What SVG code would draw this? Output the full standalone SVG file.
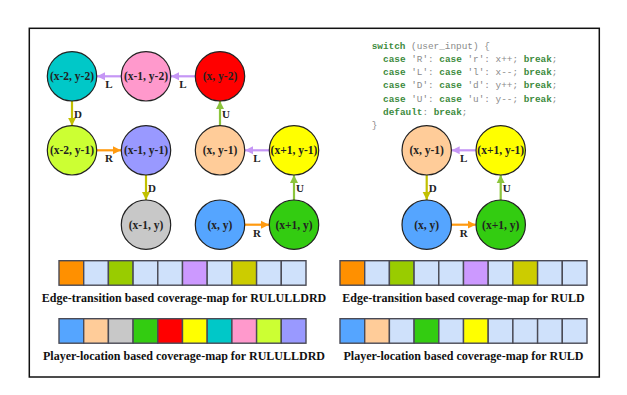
<svg xmlns="http://www.w3.org/2000/svg" width="627" height="395" viewBox="0 0 627 395">
<style>
.node circle{stroke:#222;stroke-width:1.2}
.node text{font-family:"Liberation Serif",serif;font-weight:bold;font-size:11.5px;fill:#222;text-anchor:middle}
.lbl{font-family:"Liberation Serif",serif;font-weight:bold;font-size:11px;fill:#222}
.c{text-anchor:middle}
.edge{fill:none;stroke-width:2.2}
.eL{stroke:#c596f5}
.eD{stroke:#c2c000}
.eR{stroke:#ff9a10}
.eU{stroke:#8cc43c}
.code{font-family:"Liberation Mono",monospace;font-size:9.4px;fill:#8a8a8a}
.kw{font-weight:bold;fill:#3d8b3d}
.cell{stroke:#4a4a55;stroke-width:1.4}
.cap{font-family:"Liberation Serif",serif;font-weight:bold;font-size:12px;fill:#111;text-anchor:middle}
</style>
<defs>
<marker id="aL" markerUnits="userSpaceOnUse" markerWidth="9" markerHeight="9" refX="8" refY="4.5" orient="auto"><path d="M0,0.5 L8,4.5 L0,8.5 Z" fill="#c596f5"/></marker>
<marker id="aD" markerUnits="userSpaceOnUse" markerWidth="9" markerHeight="9" refX="8" refY="4.5" orient="auto"><path d="M0,0.5 L8,4.5 L0,8.5 Z" fill="#c2c000"/></marker>
<marker id="aR" markerUnits="userSpaceOnUse" markerWidth="9" markerHeight="9" refX="8" refY="4.5" orient="auto"><path d="M0,0.5 L8,4.5 L0,8.5 Z" fill="#ff9a10"/></marker>
<marker id="aU" markerUnits="userSpaceOnUse" markerWidth="9" markerHeight="9" refX="8" refY="4.5" orient="auto"><path d="M0,0.5 L8,4.5 L0,8.5 Z" fill="#8cc43c"/></marker>
</defs>
<rect x="0" y="0" width="627" height="395" fill="#fff"/>
<rect x="29.3" y="28.3" width="570" height="348.7" fill="none" stroke="#111" stroke-width="1.5"/>

<g id="connectors">
<path class="edge eL" d="M121,76.3 H97" marker-end="url(#aL)"/>
<path class="edge eL" d="M195,76.3 H171" marker-end="url(#aL)"/>
<path class="edge eD" d="M72,101 V125.7" marker-end="url(#aD)"/>
<path class="edge eR" d="M97,150.3 H121" marker-end="url(#aR)"/>
<path class="edge eD" d="M146,175 V200" marker-end="url(#aD)"/>
<path class="edge eU" d="M220,125.7 V101" marker-end="url(#aU)"/>
<path class="edge eL" d="M269,150.3 H245" marker-end="url(#aL)"/>
<path class="edge eU" d="M294,200 V175" marker-end="url(#aU)"/>
<path class="edge eR" d="M245,224.7 H269" marker-end="url(#aR)"/>
<path class="edge eL" d="M475.7,150.3 H451.7" marker-end="url(#aL)"/>
<path class="edge eD" d="M426.7,175 V200" marker-end="url(#aD)"/>
<path class="edge eU" d="M500.7,200 V175" marker-end="url(#aU)"/>
<path class="edge eR" d="M451.7,224.7 H475.7" marker-end="url(#aR)"/>
<text class="lbl c" x="109" y="88">L</text>
<text class="lbl c" x="183" y="88">L</text>
<text class="lbl" x="74" y="117.5">D</text>
<text class="lbl c" x="109" y="162">R</text>
<text class="lbl" x="148" y="191.5">D</text>
<text class="lbl" x="222" y="117.5">U</text>
<text class="lbl c" x="257" y="162">L</text>
<text class="lbl" x="296" y="191.5">U</text>
<text class="lbl c" x="257" y="236.5">R</text>
<text class="lbl c" x="463.7" y="162">L</text>
<text class="lbl" x="428.7" y="191.5">D</text>
<text class="lbl" x="502.7" y="191.5">U</text>
<text class="lbl c" x="463.7" y="236.5">R</text>
</g>

<g id="n-xm2-ym2" class="node"><circle cx="72" cy="76.3" r="24.7" fill="#00c8c8"/><text x="72" y="80.3">(x-2, y-2)</text></g>
<g id="n-xm1-ym2" class="node"><circle cx="146" cy="76.3" r="24.7" fill="#ff99cc"/><text x="146" y="80.3">(x-1, y-2)</text></g>
<g id="n-x-ym2" class="node"><circle cx="220" cy="76.3" r="24.7" fill="#ff0000"/><text x="220" y="80.3">(x, y-2)</text></g>
<g id="n-xm2-ym1" class="node"><circle cx="72" cy="150.3" r="24.7" fill="#ccff33"/><text x="72" y="154.3">(x-2, y-1)</text></g>
<g id="n-xm1-ym1" class="node"><circle cx="146" cy="150.3" r="24.7" fill="#9999ff"/><text x="146" y="154.3">(x-1, y-1)</text></g>
<g id="n-x-ym1" class="node"><circle cx="220" cy="150.3" r="24.7" fill="#ffcc99"/><text x="220" y="154.3">(x, y-1)</text></g>
<g id="n-xp1-ym1" class="node"><circle cx="294" cy="150.3" r="24.7" fill="#ffff00"/><text x="294" y="154.3">(x+1, y-1)</text></g>
<g id="n-xm1-y" class="node"><circle cx="146" cy="224.7" r="24.7" fill="#c8c8c8"/><text x="146" y="228.7">(x-1, y)</text></g>
<g id="n-x-y" class="node"><circle cx="220" cy="224.7" r="24.7" fill="#55a5ff"/><text x="220" y="228.7">(x, y)</text></g>
<g id="n-xp1-y" class="node"><circle cx="294" cy="224.7" r="24.7" fill="#33cc11"/><text x="294" y="228.7">(x+1, y)</text></g>

<g id="r-x-ym1" class="node"><circle cx="426.7" cy="150.3" r="24.7" fill="#ffcc99"/><text x="426.7" y="154.3">(x, y-1)</text></g>
<g id="r-xp1-ym1" class="node"><circle cx="500.7" cy="150.3" r="24.7" fill="#ffff00"/><text x="500.7" y="154.3">(x+1, y-1)</text></g>
<g id="r-x-y" class="node"><circle cx="426.7" cy="224.7" r="24.7" fill="#55a5ff"/><text x="426.7" y="228.7">(x, y)</text></g>
<g id="r-xp1-y" class="node"><circle cx="500.7" cy="224.7" r="24.7" fill="#33cc11"/><text x="500.7" y="228.7">(x+1, y)</text></g>

<g id="code" class="code" xml:space="preserve">
<text x="371.7" y="48.5"><tspan class="kw">switch</tspan> (user_input) {</text>
<text x="383" y="61.8"><tspan class="kw">case</tspan> ′R′: <tspan class="kw">case</tspan> ′r′: x++; <tspan class="kw">break</tspan>;</text>
<text x="383" y="75"><tspan class="kw">case</tspan> ′L′: <tspan class="kw">case</tspan> ′l′: x--; <tspan class="kw">break</tspan>;</text>
<text x="383" y="88.3"><tspan class="kw">case</tspan> ′D′: <tspan class="kw">case</tspan> ′d′: y++; <tspan class="kw">break</tspan>;</text>
<text x="383" y="101.5"><tspan class="kw">case</tspan> ′U′: <tspan class="kw">case</tspan> ′u′: y--; <tspan class="kw">break</tspan>;</text>
<text x="383" y="114.8"><tspan class="kw">default</tspan>: <tspan class="kw">break</tspan>;</text>
<text x="371.7" y="128">}</text>
</g>

<g id="edge-map-left">
<rect class="cell" x="59" y="260.7" width="24.7" height="24.5" fill="#ff9000"/>
<rect class="cell" x="83.7" y="260.7" width="24.7" height="24.5" fill="#cfe1fb"/>
<rect class="cell" x="108.4" y="260.7" width="24.7" height="24.5" fill="#99cc00"/>
<rect class="cell" x="133.1" y="260.7" width="24.7" height="24.5" fill="#cfe1fb"/>
<rect class="cell" x="157.8" y="260.7" width="24.7" height="24.5" fill="#cfe1fb"/>
<rect class="cell" x="182.5" y="260.7" width="24.7" height="24.5" fill="#cc99ff"/>
<rect class="cell" x="207.2" y="260.7" width="24.7" height="24.5" fill="#cfe1fb"/>
<rect class="cell" x="231.9" y="260.7" width="24.7" height="24.5" fill="#cccc00"/>
<rect class="cell" x="256.6" y="260.7" width="24.7" height="24.5" fill="#cfe1fb"/>
<rect class="cell" x="281.3" y="260.7" width="24.7" height="24.5" fill="#cfe1fb"/>
<text class="cap" x="184" y="302">Edge-transition based coverage-map for RULULLDRD</text>
</g>
<g id="loc-map-left">
<rect class="cell" x="59" y="318.7" width="24.7" height="24.5" fill="#55a5ff"/>
<rect class="cell" x="83.7" y="318.7" width="24.7" height="24.5" fill="#ffcc99"/>
<rect class="cell" x="108.4" y="318.7" width="24.7" height="24.5" fill="#c8c8c8"/>
<rect class="cell" x="133.1" y="318.7" width="24.7" height="24.5" fill="#33cc11"/>
<rect class="cell" x="157.8" y="318.7" width="24.7" height="24.5" fill="#ff0000"/>
<rect class="cell" x="182.5" y="318.7" width="24.7" height="24.5" fill="#ffff00"/>
<rect class="cell" x="207.2" y="318.7" width="24.7" height="24.5" fill="#00c8c8"/>
<rect class="cell" x="231.9" y="318.7" width="24.7" height="24.5" fill="#ff99cc"/>
<rect class="cell" x="256.6" y="318.7" width="24.7" height="24.5" fill="#ccff33"/>
<rect class="cell" x="281.3" y="318.7" width="24.7" height="24.5" fill="#9999ff"/>
<text class="cap" x="184" y="359.5">Player-location based coverage-map for RULULLDRD</text>
</g>

<g id="edge-map-right">
<rect class="cell" x="340" y="260.7" width="24.7" height="24.5" fill="#ff9000"/>
<rect class="cell" x="364.7" y="260.7" width="24.7" height="24.5" fill="#cfe1fb"/>
<rect class="cell" x="389.4" y="260.7" width="24.7" height="24.5" fill="#99cc00"/>
<rect class="cell" x="414.1" y="260.7" width="24.7" height="24.5" fill="#cfe1fb"/>
<rect class="cell" x="438.8" y="260.7" width="24.7" height="24.5" fill="#cfe1fb"/>
<rect class="cell" x="463.5" y="260.7" width="24.7" height="24.5" fill="#cc99ff"/>
<rect class="cell" x="488.2" y="260.7" width="24.7" height="24.5" fill="#cfe1fb"/>
<rect class="cell" x="512.9" y="260.7" width="24.7" height="24.5" fill="#cccc00"/>
<rect class="cell" x="537.6" y="260.7" width="24.7" height="24.5" fill="#cfe1fb"/>
<rect class="cell" x="562.3" y="260.7" width="24.7" height="24.5" fill="#cfe1fb"/>
<text class="cap" x="463.5" y="302">Edge-transition based coverage-map for RULD</text>
</g>
<g id="loc-map-right">
<rect class="cell" x="340" y="318.7" width="24.7" height="24.5" fill="#55a5ff"/>
<rect class="cell" x="364.7" y="318.7" width="24.7" height="24.5" fill="#ffcc99"/>
<rect class="cell" x="389.4" y="318.7" width="24.7" height="24.5" fill="#cfe1fb"/>
<rect class="cell" x="414.1" y="318.7" width="24.7" height="24.5" fill="#33cc11"/>
<rect class="cell" x="438.8" y="318.7" width="24.7" height="24.5" fill="#cfe1fb"/>
<rect class="cell" x="463.5" y="318.7" width="24.7" height="24.5" fill="#ffff00"/>
<rect class="cell" x="488.2" y="318.7" width="24.7" height="24.5" fill="#cfe1fb"/>
<rect class="cell" x="512.9" y="318.7" width="24.7" height="24.5" fill="#cfe1fb"/>
<rect class="cell" x="537.6" y="318.7" width="24.7" height="24.5" fill="#cfe1fb"/>
<rect class="cell" x="562.3" y="318.7" width="24.7" height="24.5" fill="#cfe1fb"/>
<text class="cap" x="463.5" y="359.5">Player-location based coverage-map for RULD</text>
</g>
</svg>
